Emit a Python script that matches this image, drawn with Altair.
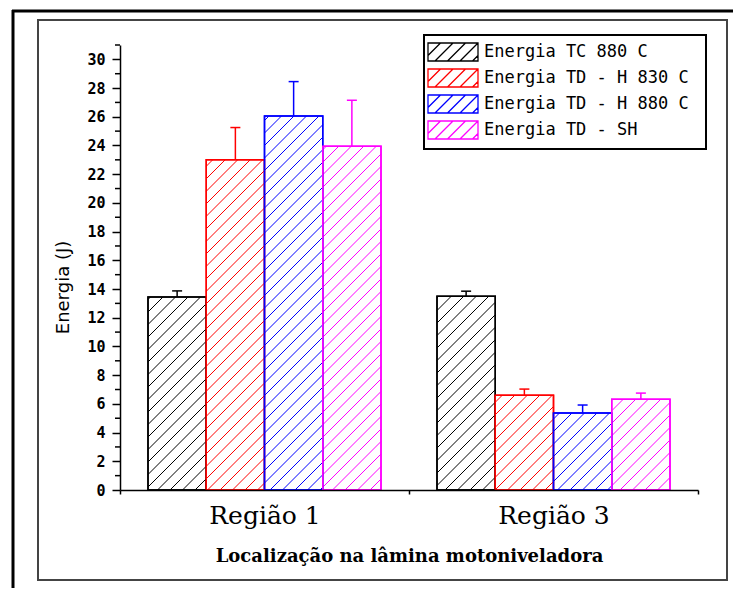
import math
import altair as alt
import pandas as pd

# ---------------- data ----------------
regions = ["Região 1", "Região 3"]
series = ["Energia TC 880  C", "Energia TD - H 830  C", "Energia TD - H 880  C", "Energia TD - SH"]
colors = ["#000000", "#FF0000", "#0000FF", "#FF00FF"]
values_r1 = [13.45, 23.0, 26.05, 23.95]
errors_r1 = [0.42, 2.25, 2.4, 3.2]
values_r3 = [13.5, 6.6, 5.37, 6.33]
errors_r3 = [0.35, 0.43, 0.55, 0.42]
y_major = list(range(0, 31, 2))
y_minor = list(range(1, 32, 2))
x_title = "Localização na lâmina motoniveladora"
y_title = "Energia (J)"

# ---------------- layout ----------------
W, H = 578, 445
YMAX = 31
PX_X = W / len(regions)
PX_Y = H / YMAX
GROUP_PAD = 28 / PX_X
BAR_W = 58.25 / PX_X
CAP = 5 / PX_X
HATCH = 12.5

rows = []
hatch = []
for g, (vals, errs) in enumerate([(values_r1, errors_r1), (values_r3, errors_r3)]):
    for i, (v, e) in enumerate(zip(vals, errs)):
        x0 = g + GROUP_PAD + i * BAR_W
        x1 = x0 + BAR_W
        xc = (x0 + x1) / 2
        rows.append(dict(region=regions[g], series=series[i], value=v, err=v + e,
                         x0=x0, x1=x1, xc=xc, cl=xc - CAP, cr=xc + CAP, zero=0))
        xl, xr, h = x0 * PX_X, x1 * PX_X, v * PX_Y
        for k in range(math.floor((xl - h) / HATCH), math.ceil(xr / HATCH) + 1):
            c = k * HATCH
            xa = max(xl, c)
            xb = min(xr, c + h)
            if xb - xa > 0.8:
                hatch.append(dict(series=series[i], hx=xa / PX_X, hy=(xa - c) / PX_Y,
                                  hx2=xb / PX_X, hy2=(xb - c) / PX_Y))

bars = pd.DataFrame(rows)
hatch_df = pd.DataFrame(hatch)
minor_df = pd.DataFrame({"m": y_minor})
dummy = pd.DataFrame({"a": [0]})

# legend swatch path: 50x18 px rectangle + diagonal hatch; unit = 9 px (symbol size 18^2)
SW = 50 / 18.0          # half width in units
HP = 12.5 / 9.0         # hatch period in units
parts = [f"M{-SW:.3f},-1L{SW:.3f},-1L{SW:.3f},1L{-SW:.3f},1Z"]
c = -SW - 1
while c <= SW + 1:
    xa = max(-SW, c - 1)
    xb = min(SW, c + 1)
    if xb - xa > 0.1:
        parts.append(f"M{xa:.3f},{-(xa - c):.3f}L{xb:.3f},{-(xb - c):.3f}")
    c += HP
swatch = "".join(parts)

legend = alt.Legend(title=None, orient="none", legendX=304, legendY=-10, padding=7,
                    strokeColor="black", fillColor="white", symbolType=swatch,
                    symbolSize=324, symbolStrokeWidth=1.3, symbolFillColor="white",
                    symbolOffset=12, labelOffset=21,
                    labelFont="DejaVu Sans Mono", labelFontSize=17, labelColor="black",
                    rowPadding=2, labelLimit=400)

cscale = alt.Scale(domain=series, range=colors)
xscale = alt.Scale(domain=[0, len(regions)], nice=False, zero=False)
yscale = alt.Scale(domain=[0, YMAX], nice=False)

xaxis = alt.Axis(
    values=[0, 0.5, 1, 1.5, 2], tickSize=4, tickColor="black", tickWidth=1.5,
    tickOpacity={"condition": {"test": "datum.value == 0.5 || datum.value == 1.5", "value": 0}, "value": 1},
    labelExpr="datum.value == 0.5 ? 'Região 1' : (datum.value == 1.5 ? 'Região 3' : '')",
    labelFont="DejaVu Serif", labelFontSize=25, labelColor="black", labelBaseline="alphabetic",
    labelPadding=29, labelOverlap=False, labelFlush=False, grid=False,
    domainColor="black", domainWidth=1.5, zindex=2,
    title=x_title, titleFont="DejaVu Serif", titleFontWeight="bold", titleFontSize=18,
    titleColor="black", titleBaseline="alphabetic", titleY=71, titleX=W / 2,
)
yaxis = alt.Axis(
    values=y_major, tickSize=8, tickColor="black", tickWidth=1.5, labelPadding=7,
    labelFont="DejaVu Sans Mono", labelFontSize=15, labelFontWeight="bold", labelColor="black",
    labelOverlap=False, labelFlush=False, domainColor="black", domainWidth=1.5, grid=False, zindex=2,
    title=y_title, titleFont="DejaVu Sans", titleFontSize=18, titleFontWeight="normal",
    titleColor="black", titleX=-48, titleY=242, titleAngle=270, titleBaseline="bottom", titleAlign="center",
)

# frames (decoration)
inner = alt.Chart(dummy).mark_rect(fillOpacity=0, stroke="#444444", strokeWidth=2).encode(
    x=alt.value(-82), x2=alt.value(607), y=alt.value(-25), y2=alt.value(535))
outer_top = alt.Chart(dummy).mark_rule(color="black", strokeWidth=3).encode(
    x=alt.value(-108), x2=alt.value(613), y=alt.value(-34))
outer_left = alt.Chart(dummy).mark_rule(color="black", strokeWidth=3).encode(
    x=alt.value(-107), y=alt.value(-35), y2=alt.value(543))

base = alt.Chart(bars)
X0 = alt.X("x0:Q", scale=xscale, axis=xaxis)
bar_layer = base.mark_rect(fill="white", strokeWidth=1.5).encode(
    x=X0, x2="x1:Q",
    y=alt.Y("value:Q", scale=yscale, axis=yaxis), y2="zero:Q",
    stroke=alt.Stroke("series:N", scale=cscale, legend=legend),
)
hatch_layer = alt.Chart(hatch_df).mark_rule(strokeWidth=1).encode(
    x=alt.X("hx:Q", scale=xscale, axis=xaxis), x2="hx2:Q",
    y=alt.Y("hy:Q", scale=yscale, axis=yaxis), y2="hy2:Q",
    stroke=alt.Stroke("series:N", scale=cscale, legend=legend),
)
outline = base.mark_rect(fillOpacity=0, strokeWidth=1.5).encode(
    x=X0, x2="x1:Q",
    y=alt.Y("value:Q", scale=yscale, axis=yaxis), y2="zero:Q",
    stroke=alt.Stroke("series:N", scale=cscale, legend=legend),
)
err_line = base.mark_rule(strokeWidth=1.5).encode(
    x=alt.X("xc:Q", scale=xscale, axis=xaxis),
    y=alt.Y("value:Q", scale=yscale, axis=yaxis), y2="err:Q",
    stroke=alt.Stroke("series:N", scale=cscale, legend=legend),
)
err_cap = base.mark_rule(strokeWidth=1.5).encode(
    x=alt.X("cl:Q", scale=xscale, axis=xaxis), x2="cr:Q",
    y=alt.Y("err:Q", scale=yscale, axis=yaxis),
    stroke=alt.Stroke("series:N", scale=cscale, legend=legend),
)
minor = alt.Chart(minor_df).mark_rule(color="black", strokeWidth=1.5).encode(
    y=alt.Y("m:Q", scale=yscale, axis=yaxis), x=alt.value(-5), x2=alt.value(0))

chart = alt.layer(outer_top, outer_left, inner, bar_layer, hatch_layer, outline,
                  err_line, err_cap, minor).properties(
    width=W, height=H, autosize="none",
    padding={"left": 112, "top": 37, "right": 35, "bottom": 98},
    background="white",
).configure_view(strokeWidth=0).configure_legend(strokeWidth=2).configure_axis(labelOverlap=False)

chart.save("out.html", embed_options={"renderer": "svg", "actions": False})
